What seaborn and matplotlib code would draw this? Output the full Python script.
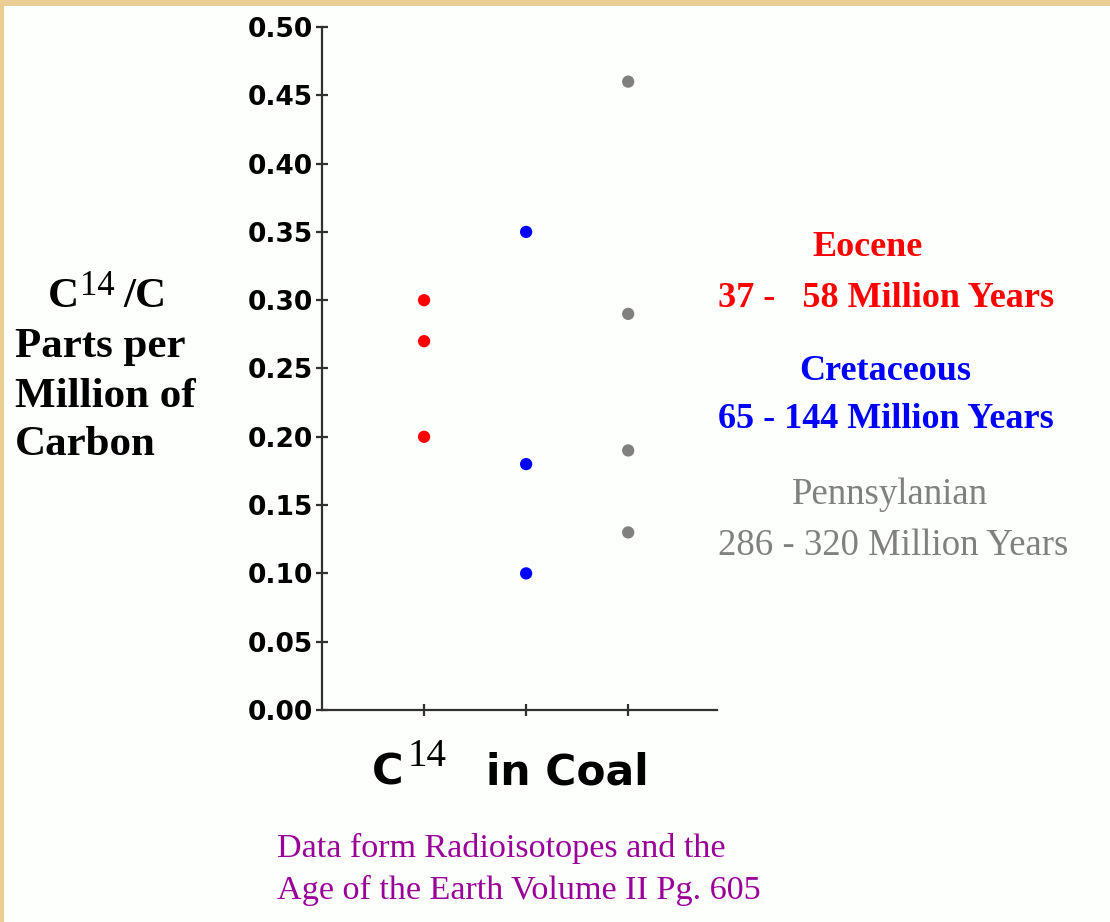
import matplotlib
matplotlib.use("Agg")
import matplotlib.pyplot as plt
from matplotlib.patches import Rectangle
import seaborn as sns
import pandas as pd

# ---- data ----
groups = ["Eocene", "Cretaceous", "Pennsylanian"]
group_pos = [1, 2, 3]
eocene_vals = [0.30, 0.27, 0.20]
cretaceous_vals = [0.35, 0.18, 0.10]
pennsylanian_vals = [0.46, 0.29, 0.19, 0.13]
y_ticks = [0.00, 0.05, 0.10, 0.15, 0.20, 0.25, 0.30, 0.35, 0.40, 0.45, 0.50]
group_colors = ["#FF0000", "#0000FF", "#808080"]
age_labels = ["37 -   58 Million Years", "65 - 144 Million Years", "286 - 320 Million Years"]

rows = []
for g, p, vals in zip(groups, group_pos, [eocene_vals, cretaceous_vals, pennsylanian_vals]):
    for v in vals:
        rows.append({"group": g, "x": p, "ppm": v})
df = pd.DataFrame(rows)

sns.set_theme(style="white")
W, H = 1110, 922
BG = "#FDFFFD"
fig = plt.figure(figsize=(W / 100, H / 100), dpi=100, facecolor=BG)

def fx(px):
    return px / W

def fy(py):
    return 1 - py / H

# tan border (top and left)
fig.patches.append(Rectangle((0, fy(6)), 1, 6 / H, transform=fig.transFigure,
                             facecolor="#E9CD92", edgecolor="none", zorder=0))
fig.patches.append(Rectangle((0, 0), 4 / W, 1, transform=fig.transFigure,
                             facecolor="#E9CD92", edgecolor="none", zorder=0))

ax = fig.add_axes([fx(322), fy(710), (717 - 322) / W, (710 - 27) / H])
ax.set_facecolor(BG)

sns.scatterplot(data=df, x="x", y="ppm", hue="group", palette=dict(zip(groups, group_colors)),
                s=78, linewidth=0, legend=False, ax=ax, zorder=3, clip_on=False)

ax.set_xlim(0, 3.87)
ax.set_ylim(0, 0.5)
ax.set_xticks(group_pos)
ax.set_xticklabels([])
ax.set_yticks(y_ticks)
ax.set_yticklabels([f"{t:.2f}" for t in y_ticks], fontsize=19, fontweight="bold",
                   family="DejaVu Sans", color="black")
ax.set_xlabel("")
ax.set_ylabel("")
for side in ["top", "right"]:
    ax.spines[side].set_visible(False)
for side in ["left", "bottom"]:
    ax.spines[side].set_color("#303030")
    ax.spines[side].set_linewidth(1.6)
ax.tick_params(axis="both", direction="inout", length=8, width=1.6, color="#303030",
               pad=2.5, left=True, bottom=True)
ax.grid(False)

serif = "Liberation Serif"

# y-axis label block
fig.text(fx(48), fy(297), "C", fontsize=31, fontweight="bold", family=serif,
         ha="left", va="center", color="black")
fig.text(fx(80), fy(286), "14", fontsize=25, family=serif,
         ha="left", va="center", color="black")
fig.text(fx(123), fy(297), "/C", fontsize=31, fontweight="bold", family=serif,
         ha="left", va="center", color="black")
for txt, py in [("Parts per", 347), ("Million of", 397), ("Carbon", 445)]:
    fig.text(fx(15), fy(py), txt, fontsize=31, fontweight="bold", family=serif,
             ha="left", va="center", color="black")

# x-axis label
fig.text(fx(372), fy(772), "C", fontsize=31, fontweight="bold", family="DejaVu Sans",
         ha="left", va="center", color="black")
fig.text(fx(408), fy(757), "14", fontsize=28, family=serif,
         ha="left", va="center", color="black")
fig.text(fx(486), fy(772), "in Coal", fontsize=30.5, fontweight="bold", family="DejaVu Sans",
         ha="left", va="center", color="black")

# group annotations
title_cx = [868, 885, 890]
title_y = [248, 372, 495]
age_y = [298, 419, 546]
for g, c, cx, ty, ay, lab in zip(groups, group_colors, title_cx, title_y, age_y, age_labels):
    bold = c != "#808080"
    fs = 26 if bold else 26.5
    fig.text(fx(cx), fy(ty), g, fontsize=fs, fontweight="bold" if bold else "normal",
             family=serif, ha="center", va="center", color=c)
    fig.text(fx(718), fy(ay), lab, fontsize=fs, fontweight="bold" if bold else "normal",
             family=serif, ha="left", va="center", color=c)

# source note
fig.text(fx(277), fy(848), "Data form Radioisotopes and the", fontsize=24.6, family=serif,
         ha="left", va="center", color="#990099")
fig.text(fx(277), fy(890), "Age of the Earth Volume II Pg. 605", fontsize=24.6, family=serif,
         ha="left", va="center", color="#990099")

fig.savefig("out.png", dpi=100, facecolor=BG)
